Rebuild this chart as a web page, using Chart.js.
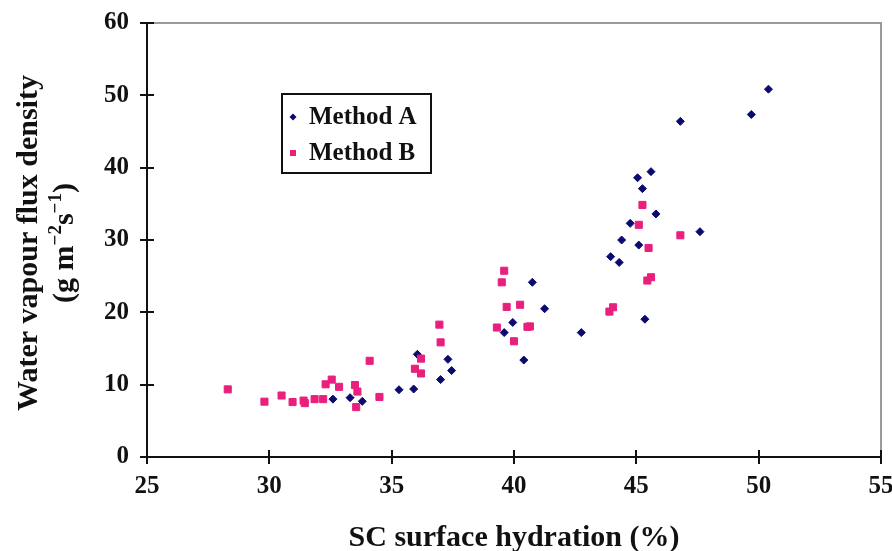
<!DOCTYPE html>
<html>
<head>
<meta charset="utf-8">
<script src="https://cdn.jsdelivr.net/npm/chart.js@4.4.1/dist/chart.umd.min.js"></script>
<style>
  body { margin: 0; background: #fff; }
  canvas { display: block; }
</style>
</head>
<body>
<canvas id="chart" width="892" height="551"></canvas>
<script>
const seriesNames = ["Method A", "Method B"];

// SC surface hydration (%) and water vapour flux
const hydrationA = [32.6, 33.3, 33.8, 35.3, 35.9, 36.05, 37.0, 37.3, 37.45, 39.6, 39.95, 40.4, 40.75, 41.25,
  42.75, 43.95, 44.3, 44.4, 44.75, 45.1, 45.35, 45.8, 45.05, 45.25, 45.6, 46.8, 47.6, 49.7, 50.4];
const fluxA = [8.0, 8.2, 7.7, 9.3, 9.4, 14.2, 10.7, 13.5, 11.95, 17.2, 18.6, 13.4, 24.15, 20.5,
  17.2, 27.7, 26.9, 30.0, 32.3, 29.3, 19.05, 33.6, 38.6, 37.1, 39.45, 46.4, 31.15, 47.35, 50.85];

const hydrationB = [28.3, 29.8, 30.5, 30.95, 31.4, 31.45, 31.85, 32.2, 32.3, 32.55, 32.85, 33.5, 33.6, 33.55,
  34.1, 34.5, 35.95, 36.2, 36.2, 36.95, 37.0, 39.3, 39.5, 39.6, 39.7, 40.0, 40.25, 40.55, 40.65,
  43.9, 44.05, 45.1, 45.25, 45.45, 45.6, 45.5, 46.8];
const fluxB = [9.35, 7.65, 8.5, 7.6, 7.8, 7.45, 8.0, 8.0, 10.05, 10.7, 9.7, 9.95, 9.05, 6.9,
  13.3, 8.3, 12.2, 13.6, 11.55, 18.3, 15.85, 17.9, 24.15, 25.75, 20.75, 16.0, 21.05, 18.0, 18.05,
  20.1, 20.7, 32.1, 34.85, 24.4, 24.85, 28.9, 30.65];

const xMin = 25, xMax = 55, xStep = 5;
const yMin = 0, yMax = 60, yStep = 10;

const xTitle = "SC surface hydration (%)";
const yTitle = "Water vapour flux density";

const SERIF = '"Liberation Serif", "Times New Roman", serif';
const navy = "#0a0a70";
const pink = "#e91f7e";

function toPoints(xs, ys) {
  return xs.map((x, i) => ({ x: x, y: ys[i] }));
}

// gray frame on top/right plus the crossing tick marks
const framePlugin = {
  id: "frame",
  afterDraw(chart) {
    const { ctx, chartArea: a, scales } = chart;
    ctx.save();
    ctx.strokeStyle = "#9a9a9a";
    ctx.lineWidth = 2;
    ctx.beginPath();
    ctx.moveTo(a.left, a.top);
    ctx.lineTo(a.right, a.top);
    ctx.lineTo(a.right, a.bottom);
    ctx.stroke();

    ctx.strokeStyle = "#111";
    ctx.lineWidth = 2;
    ctx.beginPath();
    scales.x.ticks.forEach(t => {
      const px = Math.round(scales.x.getPixelForValue(t.value));
      ctx.moveTo(px, a.bottom - 7);
      ctx.lineTo(px, a.bottom + 7);
    });
    scales.y.ticks.forEach(t => {
      const py = Math.round(scales.y.getPixelForValue(t.value));
      ctx.moveTo(a.left - 7, py);
      ctx.lineTo(a.left + 7, py);
    });
    ctx.stroke();
    ctx.restore();
  }
};

const titlePlugin = {
  id: "axisTitles",
  afterDraw(chart) {
    const { ctx, chartArea: a } = chart;
    ctx.save();
    ctx.fillStyle = "#111";

    // x title
    ctx.font = "bold 30px " + SERIF;
    ctx.textAlign = "center";
    ctx.textBaseline = "alphabetic";
    ctx.fillText(xTitle, (a.left + a.right) / 2, 546);

    // y title, two lines, rotated
    const cy = (a.top + a.bottom) / 2 + 3;
    ctx.translate(37, cy);
    ctx.rotate(-Math.PI / 2);
    ctx.fillText(yTitle, 0, 0);

    const parts = [
      { t: "(g m", sup: false },
      { t: "\u22122", sup: true },
      { t: "s", sup: false },
      { t: "\u22121", sup: true },
      { t: ")", sup: false }
    ];
    const big = "bold 30px " + SERIF;
    const small = "bold 19px " + SERIF;
    let total = 0;
    parts.forEach(p => {
      ctx.font = p.sup ? small : big;
      p.w = ctx.measureText(p.t).width;
      total += p.w;
    });
    let x = -total / 2;
    ctx.textAlign = "left";
    parts.forEach(p => {
      ctx.font = p.sup ? small : big;
      ctx.fillText(p.t, x, p.sup ? 36 - 12 : 36);
      x += p.w;
    });
    ctx.restore();
  }
};

const legendPlugin = {
  id: "boxLegend",
  afterDraw(chart) {
    const { ctx, chartArea: a } = chart;
    const left = a.left + 135, top = a.top + 71;
    ctx.save();
    ctx.fillStyle = "#fff";
    ctx.fillRect(left, top, 149, 79);
    ctx.strokeStyle = "#111";
    ctx.lineWidth = 2;
    ctx.strokeRect(left, top, 149, 79);

    ctx.font = "bold 25px " + SERIF;
    ctx.textBaseline = "middle";
    ctx.textAlign = "left";
    chart.data.datasets.forEach((ds, i) => {
      const y = top + 23 + i * 36;
      ctx.fillStyle = ds.backgroundColor;
      ctx.beginPath();
      if (ds.pointStyle === "rectRot") {
        ctx.moveTo(left + 11 - 3.5, y);
        ctx.lineTo(left + 11, y - 3.5);
        ctx.lineTo(left + 11 + 3.5, y);
        ctx.lineTo(left + 11, y + 3.5);
        ctx.closePath();
      } else {
        ctx.rect(left + 8, y - 3, 6, 6);
      }
      ctx.fill();
      ctx.fillStyle = "#111";
      ctx.fillText(ds.label, left + 27, y + 1);
    });
    ctx.restore();
  }
};

new Chart(document.getElementById("chart"), {
  type: "scatter",
  data: {
    datasets: [
      {
        label: seriesNames[0],
        data: toPoints(hydrationA, fluxA),
        pointStyle: "rectRot",
        pointRadius: 4,
        borderWidth: 1,
        backgroundColor: navy,
        borderColor: navy,
        order: 1
      },
      {
        label: seriesNames[1],
        data: toPoints(hydrationB, fluxB),
        pointStyle: "rect",
        pointRadius: 5,
        borderWidth: 1,
        backgroundColor: pink,
        borderColor: pink,
        order: 0
      }
    ]
  },
  options: {
    responsive: false,
    animation: false,
    devicePixelRatio: 1,
    layout: { padding: { top: 23, right: 11, left: 0, bottom: 0 } },
    plugins: {
      legend: { display: false },
      tooltip: { enabled: false }
    },
    scales: {
      x: {
        type: "linear",
        min: xMin,
        max: xMax,
        ticks: {
          stepSize: xStep,
          color: "#111",
          padding: 15,
          maxRotation: 0,
          font: { family: SERIF, size: 25, weight: "bold" }
        },
        grid: { display: false, drawTicks: false },
        border: { display: true, color: "#111", width: 2 },
        afterFit(scale) {
          scale.height = 94;
          scale.paddingLeft = 0;
          scale.paddingRight = 0;
        }
      },
      y: {
        type: "linear",
        min: yMin,
        max: yMax,
        ticks: {
          stepSize: yStep,
          color: "#111",
          padding: 18,
          font: { family: SERIF, size: 25, weight: "bold" }
        },
        grid: { display: false, drawTicks: false },
        border: { display: true, color: "#111", width: 2 },
        afterFit(scale) {
          scale.width = 147;
          scale.paddingTop = 0;
          scale.paddingBottom = 0;
        }
      }
    }
  },
  plugins: [framePlugin, titlePlugin, legendPlugin]
});
</script>
</body>
</html>
